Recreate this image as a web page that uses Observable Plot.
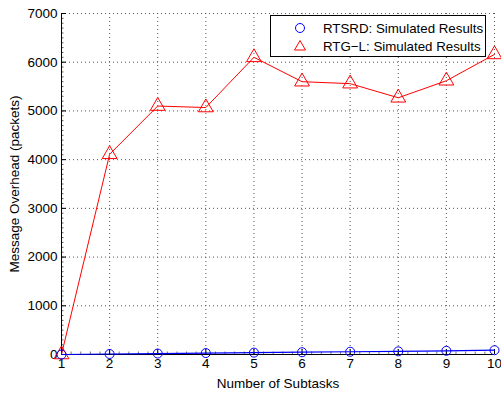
<!DOCTYPE html>
<html>
<head>
<meta charset="utf-8">
<script src="https://cdn.jsdelivr.net/npm/d3@7"></script>
<script src="https://cdn.jsdelivr.net/npm/@observablehq/plot@0.6"></script>
<style>
  body { margin: 0; background: #fff; }
  #wrap { position: relative; width: 501px; height: 394px; font-family: "Liberation Sans", Arial, sans-serif; }
  #legend { position: absolute; left: 270px; top: 15px; width: 216px; height: 42px; border: 1px solid #000; background: #fff; font-size: 13.3px; box-sizing: border-box; }
  .row { position: absolute; left: 0; height: 18px; display: flex; align-items: center; }
  .row svg { position: absolute; left: 21px; }
  .row span { position: absolute; left: 52px; white-space: nowrap; }
</style>
</head>
<body>
<div id="wrap"></div>
<script>
const subtasks = [1, 2, 3, 4, 5, 6, 7, 8, 9, 10];
const rtsrd = [0, 10, 20, 30, 38, 47, 56, 65, 76, 88];
const rtgl = [0, 4110, 5100, 5070, 6100, 5600, 5560, 5270, 5620, 6160];
const yTicks = [0, 1000, 2000, 3000, 4000, 5000, 6000, 7000];
const xTicks = subtasks;
const yMinor = d3.range(0, 7001, 100);
const xMinor = d3.range(1, 10.001, 0.2);
const seriesNames = ["RTSRD: Simulated Results", "RTG\u2212L: Simulated Results"];

const dataBlue = subtasks.map((x, i) => ({x, y: rtsrd[i]}));
const dataRed = subtasks.map((x, i) => ({x, y: rtgl[i]}));

const pxX = 9 / 433;   // data units per pixel in x
const pxY = 7000 / 341; // data units per pixel in y

const chart = Plot.plot({
  width: 501,
  height: 394,
  marginLeft: 61,
  marginRight: 7,
  marginTop: 13,
  marginBottom: 40,
  style: {fontFamily: "'Liberation Sans', Arial, sans-serif", fontSize: "13px", color: "#000", background: "#fff"},
  x: {domain: [1, 10]},
  y: {domain: [0, 7000]},
  marks: [
    // dotted grid
    Plot.ruleX(xTicks.filter(d => d > 1), {y1: 0, y2: 7000, stroke: "#555", strokeWidth: 1, strokeDasharray: "1,3"}),
    Plot.ruleY(yTicks.filter(d => d > 0), {x1: 1, x2: 10, stroke: "#555", strokeWidth: 1, strokeDasharray: "1,3"}),
    // minor ticks
    Plot.ruleY(yMinor, {x1: 1, x2: 1 + 2.5 * pxX, stroke: "#333", strokeWidth: 0.8}),
    Plot.ruleX(xMinor, {y1: 0, y2: 2.5 * pxY, stroke: "#555", strokeWidth: 0.8}),
    // major ticks
    Plot.ruleY(yTicks, {x1: 1, x2: 1 + 5 * pxX, stroke: "#000", strokeWidth: 1}),
    Plot.ruleX(xTicks, {y1: 0, y2: 5 * pxY, stroke: "#000", strokeWidth: 1}),
    // axis lines
    Plot.ruleX([1], {y1: 0, y2: 7000, stroke: "#000", strokeWidth: 1}),
    Plot.ruleY([0], {x1: 1, x2: 10, stroke: "#000", strokeWidth: 1}),
    // axes labels
    Plot.axisY(yTicks, {anchor: "left", tickSize: 0, tickPadding: 4, fontSize: 13.5, tickFormat: d3.format("d"), label: "Message Overhead (packets)", labelAnchor: "center", labelArrow: "none", labelOffset: 52}),
    Plot.axisX(xTicks, {anchor: "bottom", tickSize: 0, tickPadding: 4, fontSize: 13.5, tickFormat: d3.format("d"), label: "Number of Subtasks", labelAnchor: "center", labelArrow: "none", labelOffset: 33}),
    // series
    Plot.line(dataRed, {x: "x", y: "y", stroke: "#ff0000", strokeWidth: 1}),
    Plot.dot(dataRed, {x: "x", y: "y", symbol: "triangle", r: 5.5, stroke: "#ff0000", fill: "none", strokeWidth: 1}),
    Plot.line(dataBlue, {x: "x", y: "y", stroke: "#0000ff", strokeWidth: 1.2}),
    Plot.dot(dataBlue, {x: "x", y: "y", symbol: "circle", r: 4.5, stroke: "#0000ff", fill: "none", strokeWidth: 1})
  ]
});

const wrap = document.getElementById("wrap");
wrap.appendChild(chart);

const legend = document.createElement("div");
legend.id = "legend";
legend.innerHTML = `
  <div class="row" style="top:3px"><svg width="16" height="16" viewBox="-8 -8 16 16"><circle r="4.5" fill="none" stroke="#0000ff" stroke-width="1"/></svg><span>${seriesNames[0]}</span></div>
  <div class="row" style="top:21px"><svg width="16" height="16" viewBox="-8 -8 16 16"><path d="M0,-5.5L5.5,4L-5.5,4Z" fill="none" stroke="#ff0000" stroke-width="1"/></svg><span>${seriesNames[1]}</span></div>`;
wrap.appendChild(legend);
</script>
</body>
</html>
